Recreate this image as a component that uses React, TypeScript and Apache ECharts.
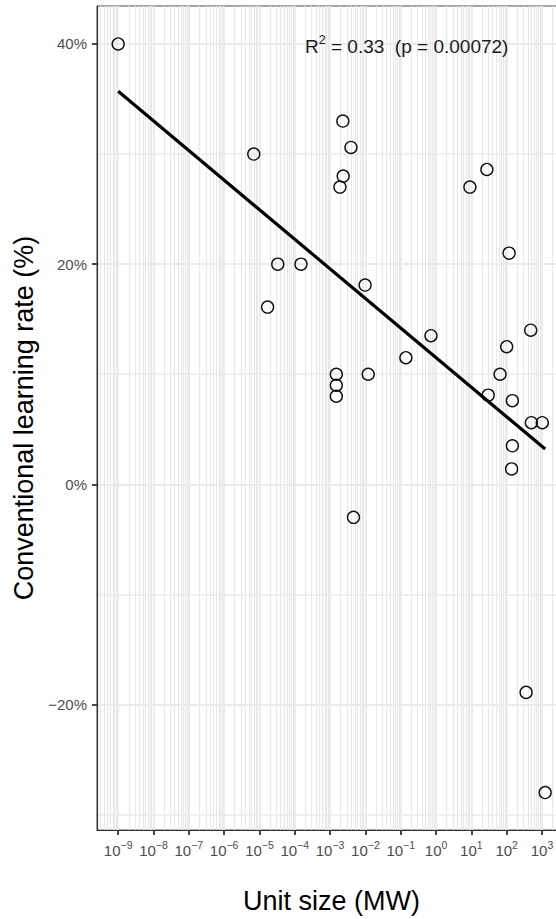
import React, { useEffect, useRef } from "react";
import * as echarts from "echarts";

// Unit size (MW) and conventional learning rate (%) for each technology
const unitSizeMW = [
  1e-9, 6.9e-6, 3.3e-5, 1.5e-4, 1.7e-5, 9.8e-3, 1.5e-3, 1.5e-3, 1.5e-3, 1.2e-2,
  0.14, 0.72, 30, 65, 100, 480, 145, 500, 1020, 145, 138, 4.6e-3, 355, 1230,
  2.3e-3, 3.9e-3, 2.35e-3, 1.9e-3, 9.1, 27.5, 117,
];
const learningRate = [
  40, 30.0, 20.0, 20.0, 16.1, 18.1, 10.0, 9.0, 8.0, 10.0,
  11.5, 13.5, 8.1, 10.0, 12.5, 14.0, 7.6, 5.6, 5.6, 3.5, 1.4, -3.0, -18.9, -28.0,
  33.0, 30.6, 28.0, 27.0, 27.0, 28.6, 21.0,
];

// Fitted regression line end points
const fitSizeMW = [1e-9, 1230];
const fitRate = [35.7, 3.2];

// Axis ticks
const xTickExponents = [-9, -8, -7, -6, -5, -4, -3, -2, -1, 0, 1, 2, 3];
const yMajorTicks = [-20, 0, 20, 40];
const yMinorTicks = [-30, -10, 10, 30];

const X_MIN = -9.6;
const X_MAX = 3.68;
const Y_MIN = -31.4;
const Y_MAX = 43.45;

const FONT = "'Liberation Sans', Arial, Helvetica, sans-serif";

export default function App() {
  const ref = useRef<HTMLDivElement>(null);

  useEffect(() => {
    if (!ref.current) return;
    const chart = echarts.init(ref.current, undefined, { renderer: "svg" });

    const points = unitSizeMW.map((s, i) => [Math.log10(s), learningRate[i]]);
    const fit = fitSizeMW.map((s, i) => [Math.log10(s), fitRate[i]]);

    // vertical grid lines: decades (major) and 2..9 multiples (minor)
    const vLines: any[] = [];
    for (let n = -10; n <= 3; n++) {
      for (let k = 1; k <= 9; k++) {
        const v = n + Math.log10(k);
        if (v <= X_MIN || v >= X_MAX) continue;
        vLines.push({
          xAxis: v,
          lineStyle: { color: "#E8E8E8", width: k === 1 ? 1.6 : 1.2, type: "solid" },
        });
      }
    }
    const hLines: any[] = [
      ...yMajorTicks.map((v) => ({ yAxis: v, lineStyle: { color: "#EBEBEB", width: 2, type: "solid" } })),
      ...yMinorTicks.map((v) => ({ yAxis: v, lineStyle: { color: "#EBEBEB", width: 1.6, type: "solid" } })),
    ];

    const sup = (n: number) => (n < 0 ? "\u2212" + Math.abs(n) : String(n));

    chart.setOption({
      animation: false,
      backgroundColor: "#ffffff",
      textStyle: { fontFamily: FONT },
      grid: {
        left: 97,
        top: 6,
        right: 0,
        bottom: 89,
        show: true,
        borderColor: "#4d4d4d",
        borderWidth: 1,
        backgroundColor: "#ffffff",
        containLabel: false,
      },
      xAxis: {
        type: "value",
        min: X_MIN,
        max: X_MAX,
        z: 3,
        name: "Unit size (MW)",
        nameLocation: "middle",
        nameGap: 57,
        nameTextStyle: { fontSize: 27, color: "#000", fontFamily: FONT },
        axisLine: { show: true, onZero: false, lineStyle: { color: "#333333", width: 1.2 } },
        axisTick: {
          show: true,
          customValues: xTickExponents,
          length: 5,
          lineStyle: { color: "#333333", width: 1.8 },
        },
        axisLabel: {
          show: true,
          customValues: xTickExponents,
          margin: 9,
          formatter: (v: number) => `{b|10}{s|${sup(Math.round(v))}}`,
          rich: {
            b: { fontSize: 15, color: "#4d4d4d", fontFamily: FONT, lineHeight: 19, verticalAlign: "bottom" },
            s: { fontSize: 10.5, color: "#4d4d4d", fontFamily: FONT, lineHeight: 11, verticalAlign: "top" },
          },
        },
        splitLine: { show: false },
        minorSplitLine: { show: false },
      },
      yAxis: {
        type: "value",
        min: Y_MIN,
        max: Y_MAX,
        z: 3,
        name: "Conventional learning rate (%)",
        nameLocation: "middle",
        nameGap: 49,
        nameRotate: 90,
        nameTextStyle: { fontSize: 27, color: "#000", fontFamily: FONT },
        axisLine: { show: true, onZero: false, lineStyle: { color: "#333333", width: 1.2 } },
        axisTick: {
          show: true,
          customValues: yMajorTicks,
          length: 5,
          lineStyle: { color: "#333333", width: 1.8 },
        },
        axisLabel: {
          show: true,
          customValues: yMajorTicks,
          margin: 10,
          fontSize: 15,
          color: "#4d4d4d",
          fontFamily: FONT,
          formatter: (v: number) => (v < 0 ? "\u2212" : "") + Math.abs(v) + "%",
        },
        splitLine: { show: false },
      },
      graphic: [
        {
          type: "text",
          left: 305,
          top: 33,
          z: 10,
          style: {
            text: "{r|R}{s|2}{t| = 0.33  (p = 0.00072)}",
            rich: {
              r: { fontSize: 19, fill: "#1a1a1a", fontFamily: FONT, lineHeight: 23, verticalAlign: "bottom" },
              s: { fontSize: 12.5, fill: "#1a1a1a", fontFamily: FONT, lineHeight: 12, verticalAlign: "top" },
              t: { fontSize: 19, fill: "#1a1a1a", fontFamily: FONT, lineHeight: 23, verticalAlign: "bottom" },
            },
          },
        },
      ],
      series: [
        {
          type: "scatter",
          data: [],
          z: 1,
          silent: true,
          markLine: {
            silent: true,
            z: 1,
            symbol: ["none", "none"],
            label: { show: false },
            emphasis: { disabled: true },
            data: [...vLines, ...hLines],
          },
        },
        {
          type: "scatter",
          data: points,
          z: 4,
          symbol: "circle",
          symbolSize: 12,
          itemStyle: { color: "rgba(0,0,0,0)", borderColor: "#111111", borderWidth: 1.4, opacity: 1 },
        },
        {
          type: "line",
          data: fit,
          z: 5,
          symbol: "none",
          showSymbol: false,
          lineStyle: { color: "#000000", width: 3.2 },
        },
      ],
    });

    return () => chart.dispose();
  }, []);

  return (
    <div
      style={{
        position: "absolute",
        left: 0,
        top: 0,
        width: 556,
        height: 919,
        overflow: "hidden",
      }}
    >
      <div ref={ref} style={{ width: 566, height: 919 }} />
    </div>
  );
}
